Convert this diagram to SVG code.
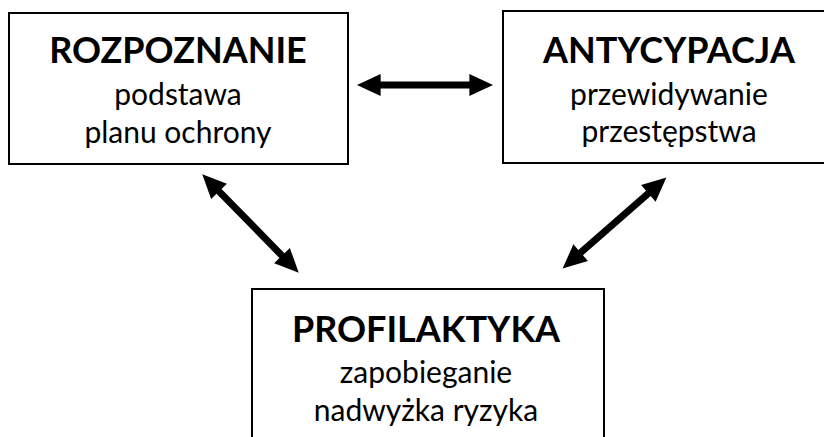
<svg xmlns="http://www.w3.org/2000/svg" width="824" height="437" viewBox="0 0 824 437">
<style>
.box{fill:#fff;stroke:#000;stroke-width:2}
.t{font-family:Lato,"Open Sans",sans-serif;font-weight:bold;font-size:36px;text-anchor:middle;fill:#000}
.s{font-family:Lato,"Open Sans",sans-serif;font-size:30px;text-anchor:middle;fill:#000}
.arr{fill:#000}
</style>
<defs>
<path id="dbl" d="M -69 0 L -45 -11 L -45 -3.5 L 45 -3.5 L 45 -11 L 69 0 L 45 11 L 45 3.5 L -45 3.5 L -45 11 Z"/>
</defs>
<rect width="824" height="437" fill="#fff"/>
<g id="rozpoznanie">
<rect class="box" x="9" y="13" width="339" height="151"/>
<text class="t" x="178" y="63">ROZPOZNANIE</text>
<text class="s" x="178" y="105">podstawa</text>
<text class="s" x="178" y="143">planu ochrony</text>
</g>
<g id="antycypacja">
<rect class="box" x="503" y="11" width="332" height="152"/>
<text class="t" x="669" y="63">ANTYCYPACJA</text>
<text class="s" x="669" y="105">przewidywanie</text>
<text class="s" x="669" y="142">przestępstwa</text>
</g>
<g id="profilaktyka">
<rect class="box" x="252" y="289" width="352" height="160"/>
<text class="t" x="426" y="342">PROFILAKTYKA</text>
<text class="s" x="426" y="383">zapobieganie</text>
<text class="s" x="426" y="421">nadwyżka ryzyka</text>
</g>
<g id="connectors" class="arr">
<use href="#dbl" transform="translate(425,85) scale(0.986,1)"/>
<use href="#dbl" transform="translate(250.5,223.5) rotate(45.6)"/>
<use href="#dbl" transform="translate(614.5,223) rotate(138.8)"/>
</g>
</svg>
